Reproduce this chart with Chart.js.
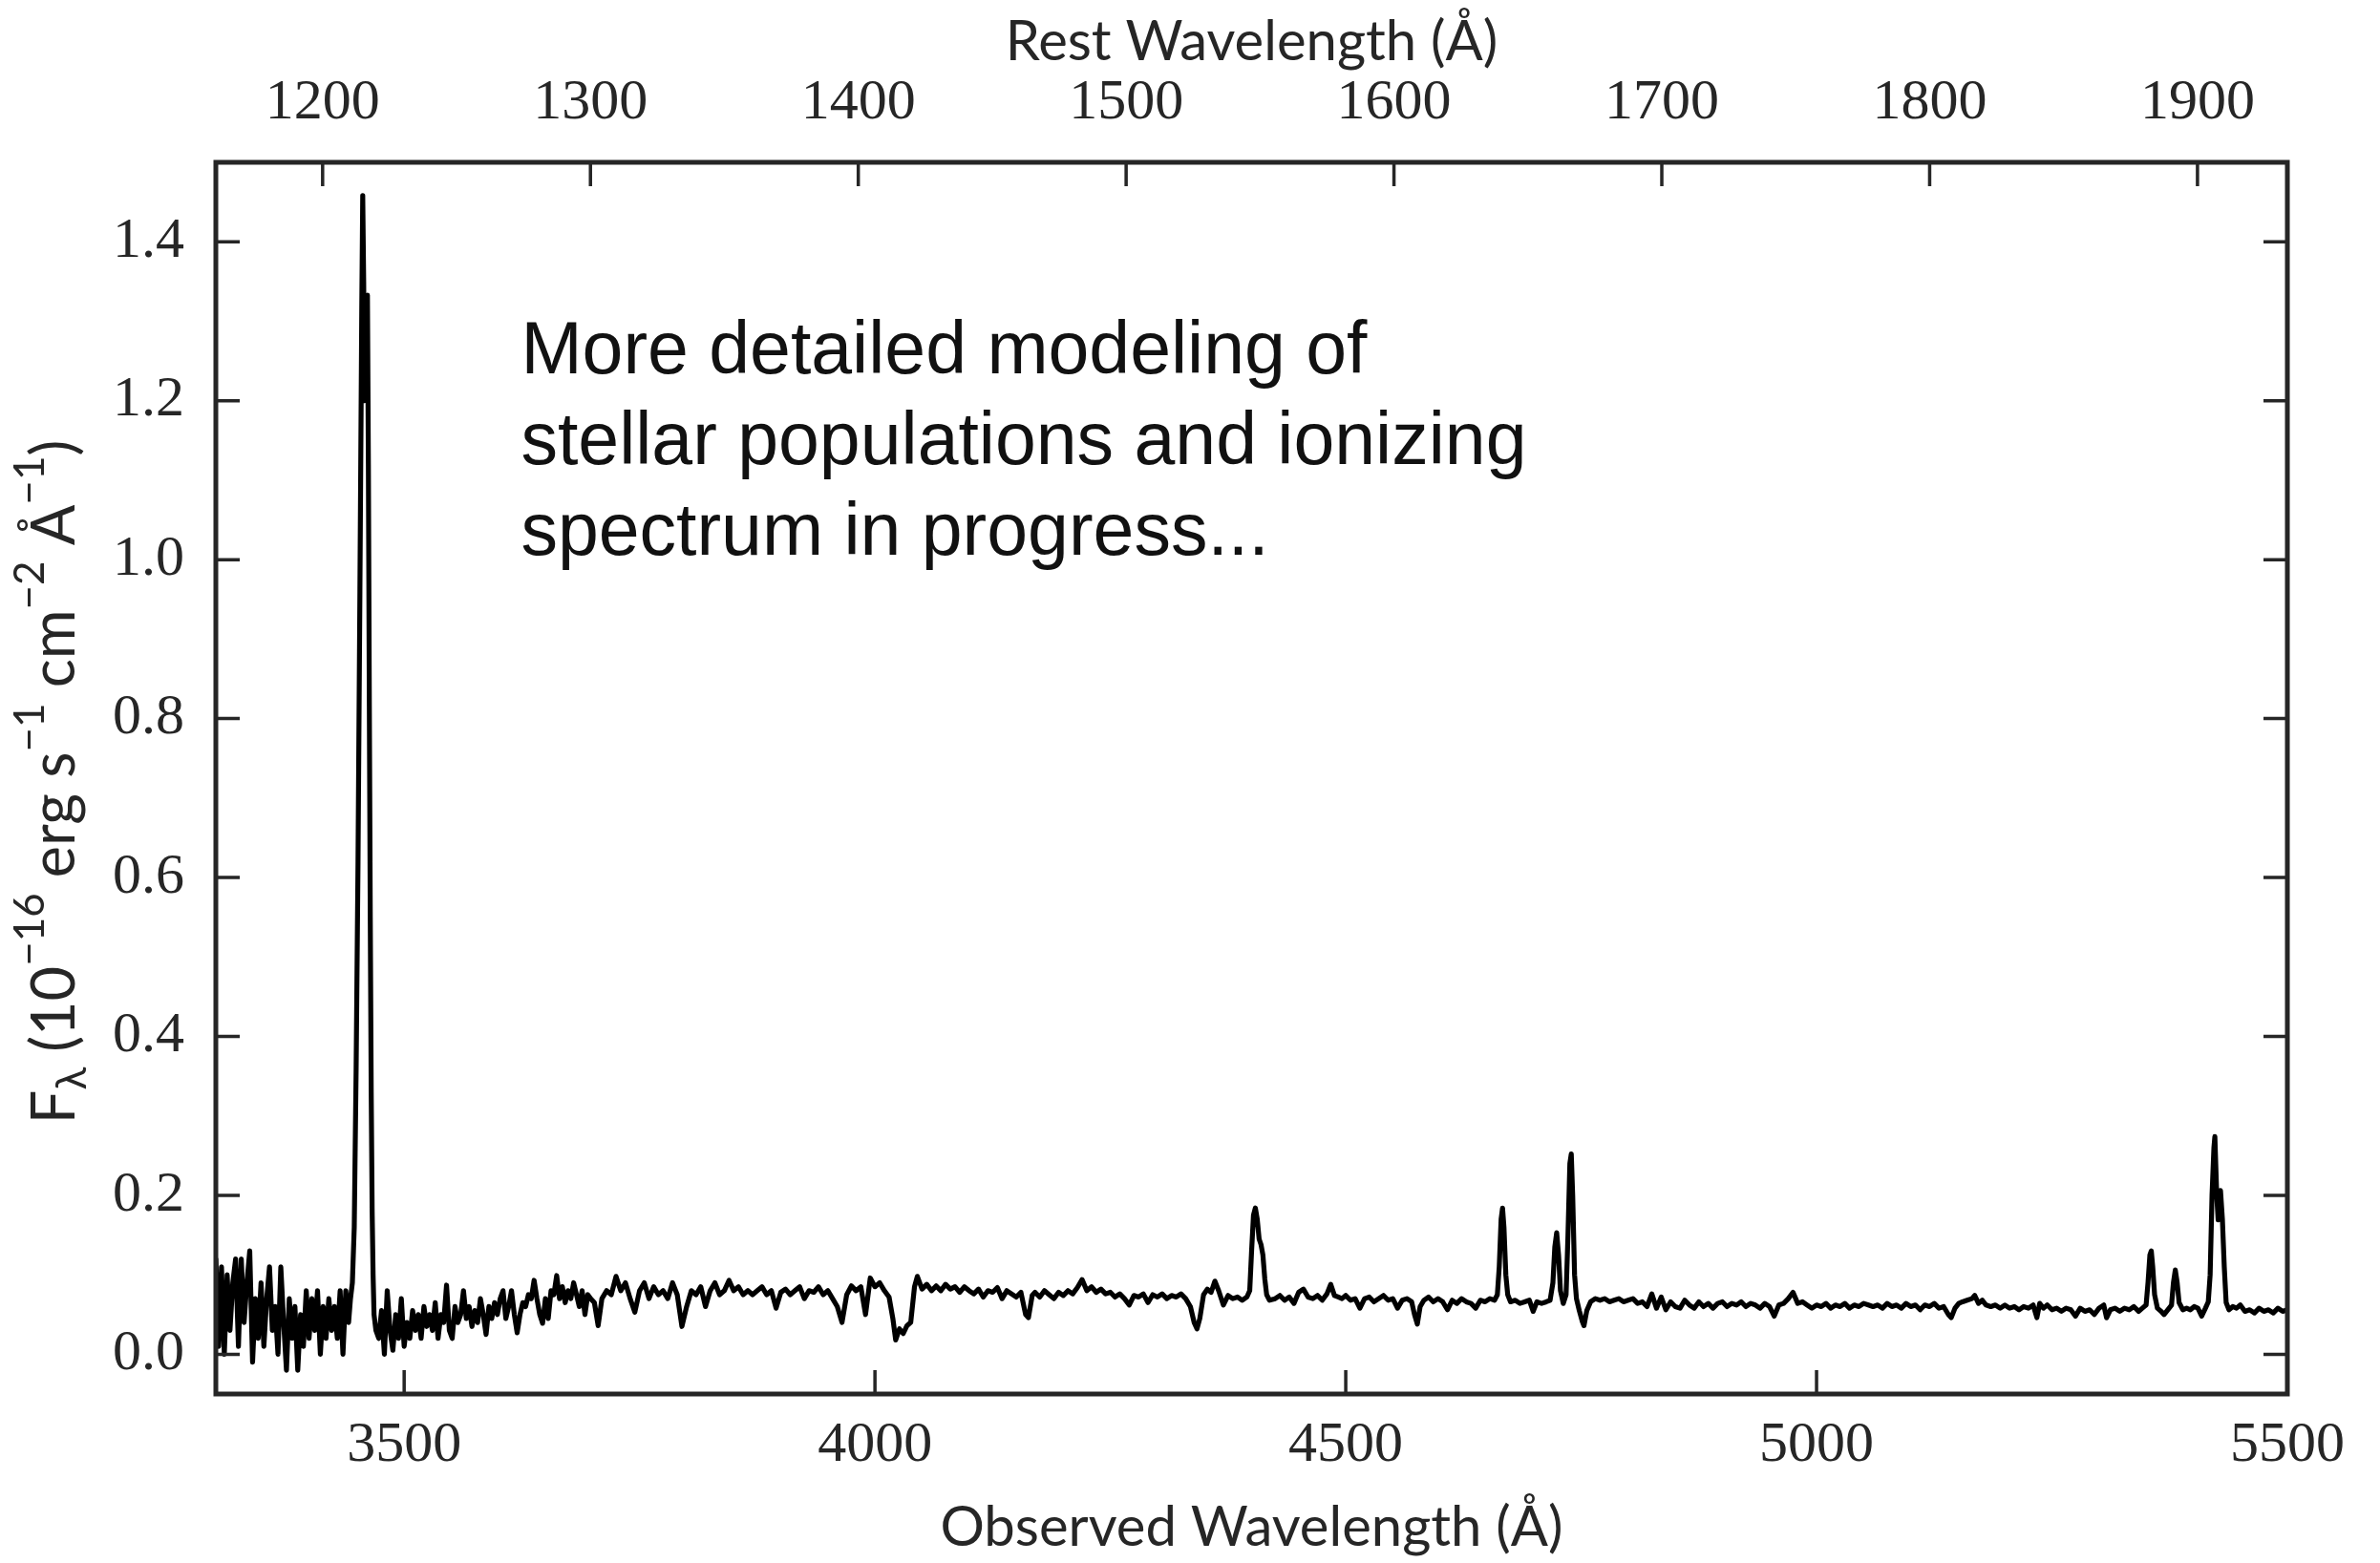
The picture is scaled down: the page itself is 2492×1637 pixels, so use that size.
<!DOCTYPE html>
<html>
<head>
<meta charset="utf-8">
<title>Spectrum</title>
<script src="https://cdn.jsdelivr.net/npm/chart.js@4.4.1/dist/chart.umd.min.js"></script>
<style>
  html, body { margin: 0; padding: 0; background: #fff; }
  canvas { display: block; }
</style>
</head>
<body>
<canvas id="spec" width="2492" height="1637"></canvas>
<script>
// 1 + z for the rest-frame axis on top
const ONE_PLUS_Z = 2.8445;
const OBS_MIN = 3300, OBS_MAX = 5500;
const FLUX_MIN = -0.05, FLUX_MAX = 1.5;

const obsTicks = [3500, 4000, 4500, 5000, 5500];
const restTicks = [1200, 1300, 1400, 1500, 1600, 1700, 1800, 1900];
const fluxTicks = [0.0, 0.2, 0.4, 0.6, 0.8, 1.0, 1.2, 1.4];

const noteLines = ['More detailed modeling of', 'stellar populations and ionizing', 'spectrum in progress...'];

// [observed wavelength (Å), F_lambda (1e-16 erg/s/cm2/Å)]
const blueNoise = [
  [3300,0.12],[3303,0.01],[3306,0.11],[3309,0.00],[3312,0.10],[3315,0.03],[3318,0.09],[3321,0.12],
  [3324,0.01],[3327,0.12],[3330,0.04],[3333,0.09],[3336,0.13],[3339,-0.01],[3342,0.07],[3345,0.02],
  [3348,0.09],[3351,0.01],[3354,0.07],[3357,0.11],[3360,0.03],[3363,0.06],[3366,0.00],[3369,0.11],
  [3372,0.04],[3375,-0.02],[3378,0.07],[3381,0.02],[3384,0.06],[3387,-0.02],[3390,0.05],[3393,0.01],
  [3396,0.08],[3399,0.02],[3402,0.07],[3405,0.03],[3408,0.08],[3411,0.00],[3414,0.06],[3417,0.02],
  [3420,0.07],[3423,0.03],[3426,0.06],[3429,0.02],[3432,0.08],[3435,0.00],[3438,0.08],[3441,0.04]
];
const lyaLine = [
  [3443,0.07],[3445,0.09],[3447,0.16],[3449,0.36],[3451,0.62],[3453,0.96],[3455,1.32],[3456,1.458],
  [3457,1.35],[3458,1.20],[3459,1.24],[3460,1.30],[3461,1.333],[3462,1.12],[3463,0.82],[3464,0.55],
  [3465,0.33],[3466,0.18],[3467,0.10],[3468,0.05]
];
const continuumA = [
  [3470,0.03],[3473,0.02],[3476,0.055],[3479,0.00],[3482,0.08],[3485,0.03],[3488,0.005],[3491,0.05],
  [3494,0.02],[3497,0.07],[3500,0.01],[3503,0.04],[3506,0.02],[3509,0.055],[3512,0.03],[3515,0.05],
  [3518,0.02],[3521,0.06],[3524,0.035],[3527,0.05],[3530,0.03],[3533,0.065],[3536,0.02],[3539,0.05],
  [3542,0.04],[3545,0.087],[3548,0.03],[3551,0.02],[3554,0.06],[3557,0.04],[3560,0.05],[3563,0.08],
  [3566,0.045],[3569,0.06],[3572,0.035],[3575,0.055],[3578,0.04],[3581,0.07],[3584,0.05],[3587,0.025],
  [3590,0.06],[3593,0.045],[3596,0.065],[3599,0.05],[3602,0.07],[3605,0.08],[3608,0.045],[3611,0.06],
  [3614,0.08],[3617,0.05],[3620,0.027],[3623,0.05],[3626,0.065],[3629,0.06],[3632,0.075],[3635,0.07],
  [3638,0.093],[3641,0.07],[3644,0.05],[3647,0.039],[3650,0.07],[3653,0.045],[3656,0.08],[3659,0.075],
  [3662,0.099],[3665,0.07],[3668,0.085],[3671,0.065],[3674,0.08],[3677,0.07],[3680,0.09],[3683,0.075],
  [3686,0.06],[3689,0.08],[3692,0.05],[3695,0.075],[3698,0.07],[3702,0.065],[3706,0.036],[3710,0.07],
  [3715,0.08],[3720,0.075],[3725,0.098],[3730,0.08],[3735,0.09],[3740,0.07],[3745,0.053],[3750,0.08],
  [3755,0.09],[3760,0.07],[3765,0.085],[3770,0.075],[3775,0.08],[3780,0.07],[3785,0.09],[3790,0.075],
  [3795,0.035],[3800,0.06],[3805,0.08],[3810,0.075],[3815,0.085],[3820,0.06],[3825,0.08],[3830,0.09],
  [3835,0.075],[3840,0.08],[3845,0.093],[3850,0.08],[3855,0.085],[3860,0.075],[3865,0.08],[3870,0.075],
  [3875,0.08],[3880,0.085],[3885,0.075],[3890,0.08],[3895,0.058],[3900,0.078],[3905,0.082],[3910,0.075],
  [3915,0.08],[3920,0.085],[3925,0.07],[3930,0.08],[3935,0.078],[3940,0.085],[3945,0.075],[3950,0.08],
  [3955,0.07],[3960,0.06],[3965,0.04],[3970,0.075],[3975,0.086],[3980,0.08],[3985,0.085],[3990,0.05],
  [3995,0.096],[4000,0.085],[4005,0.09],[4010,0.08],[4015,0.072],[4019,0.045],[4022,0.018],[4026,0.032],
  [4030,0.026],[4034,0.036],[4038,0.04],[4042,0.085],[4045,0.098],[4050,0.082],[4055,0.088],[4060,0.08],
  [4065,0.086],[4070,0.08],[4075,0.088],[4080,0.082],[4085,0.085],[4090,0.078],[4095,0.085],[4100,0.08],
  [4105,0.076],[4110,0.082],[4115,0.072],[4120,0.08],[4125,0.078],[4130,0.084],[4135,0.07],[4140,0.08],
  [4145,0.076],[4150,0.072],[4155,0.078],[4160,0.05],[4163,0.046],[4167,0.074],[4170,0.078],[4175,0.072],
  [4180,0.08],[4185,0.075],[4190,0.07],[4195,0.078],[4200,0.074],[4205,0.08],[4210,0.076],[4215,0.084],
  [4220,0.094],[4225,0.08],[4230,0.085],[4235,0.078],[4240,0.082],[4245,0.076],[4250,0.078],[4255,0.072],
  [4260,0.076],[4265,0.07],[4270,0.062],[4275,0.074],[4280,0.072],[4285,0.076],[4290,0.065],[4295,0.075],
  [4300,0.072],[4305,0.076],[4310,0.07],[4315,0.074],[4320,0.072],[4325,0.076],[4330,0.07],[4335,0.06],
  [4339,0.04],[4342,0.032],[4345,0.045],[4349,0.075],[4353,0.082],[4357,0.078],[4361,0.092],[4365,0.08],
  [4370,0.062],[4375,0.074],[4380,0.07],[4385,0.072],[4390,0.068],[4395,0.072]
];
const civLine = [
  [4398,0.08],[4400,0.13],[4402,0.175],[4404,0.184],[4406,0.17],[4408,0.145],[4410,0.138],[4412,0.125],
  [4414,0.095],[4416,0.075],[4419,0.068]
];
const continuumB = [
  [4425,0.07],[4430,0.074],[4435,0.068],[4440,0.072],[4445,0.064],[4450,0.078],[4455,0.082],[4460,0.072],
  [4465,0.07],[4470,0.074],[4475,0.068],[4480,0.076],[4484,0.088],[4488,0.074],[4492,0.072],[4496,0.07],
  [4500,0.074],[4505,0.068],[4510,0.07],[4515,0.058],[4520,0.07],[4525,0.072],[4530,0.066],[4535,0.07],
  [4540,0.074],[4545,0.068],[4550,0.07],[4555,0.058],[4560,0.068],[4565,0.07],[4570,0.066],[4573,0.05],
  [4576,0.038],[4579,0.06],[4583,0.068],[4588,0.072],[4593,0.066],[4598,0.07],[4603,0.066],[4608,0.056],
  [4613,0.068],[4618,0.064],[4623,0.07],[4628,0.066],[4633,0.064],[4638,0.058],[4643,0.068],[4648,0.066],
  [4653,0.07],[4658,0.068]
];
const heiiOiiiLines = [
  [4661,0.075],[4663,0.11],[4665,0.17],[4666.5,0.184],[4668,0.16],[4670,0.10],[4672,0.075],[4675,0.066],
  [4680,0.068],[4685,0.064],[4690,0.066],[4695,0.068],[4699,0.054],[4703,0.066],[4708,0.064],[4713,0.066],
  [4717,0.068],[4720,0.09],[4722,0.135],[4724,0.153],[4726,0.125],[4728,0.08],[4731,0.064],[4734,0.075],
  [4736,0.15],[4738,0.24],[4739.5,0.252],[4741,0.20],[4743,0.10],[4745,0.07],[4748,0.055],[4751,0.042],
  [4753,0.036],[4756,0.055]
];
const continuumC = [
  [4760,0.066],[4765,0.07],[4770,0.068],[4775,0.07],[4780,0.066],[4785,0.068],[4790,0.07],[4795,0.066],
  [4800,0.068],[4805,0.07],[4810,0.064],[4815,0.066],[4820,0.06],[4825,0.076],[4830,0.058],[4835,0.072],
  [4840,0.056],[4845,0.066],[4850,0.06],[4855,0.058],[4860,0.068],[4865,0.062],[4870,0.058],[4875,0.066],
  [4880,0.06],[4885,0.064],[4890,0.058],[4895,0.064],[4900,0.066],[4905,0.06],[4910,0.064],[4915,0.062],
  [4920,0.066],[4925,0.06],[4930,0.064],[4935,0.062],[4940,0.058],[4945,0.064],[4950,0.06],[4955,0.048],
  [4960,0.062],[4965,0.064],[4970,0.07],[4975,0.078],[4980,0.064],[4985,0.066],[4990,0.062],[4995,0.058],
  [5000,0.062],[5005,0.06],[5010,0.064],[5015,0.058],[5020,0.062],[5025,0.06],[5030,0.064],[5035,0.058],
  [5040,0.062],[5045,0.06],[5050,0.064],[5055,0.062],[5060,0.06],[5065,0.062],[5070,0.058],[5075,0.064],
  [5080,0.06],[5085,0.062],[5090,0.058],[5095,0.064],[5100,0.06],[5105,0.062],[5110,0.056],[5115,0.062],
  [5120,0.06],[5125,0.064],[5130,0.058],[5135,0.06],[5140,0.05],[5143,0.046],[5147,0.058],[5151,0.064],
  [5155,0.066],[5160,0.068],[5165,0.07],[5168,0.074],[5172,0.064],[5176,0.068],[5180,0.062],[5185,0.06],
  [5190,0.062],[5195,0.058],[5200,0.062],[5205,0.058],[5210,0.06],[5215,0.056],[5220,0.06],[5225,0.058],
  [5230,0.062],[5234,0.046],[5237,0.064],[5241,0.058],[5245,0.062],[5250,0.056],[5255,0.058],[5260,0.054],
  [5265,0.058],[5270,0.056],[5275,0.048],[5280,0.058],[5285,0.054],[5290,0.056],[5295,0.05],[5300,0.058],
  [5305,0.062],[5308,0.046],[5312,0.056],[5317,0.058],[5322,0.054],[5327,0.058],[5332,0.056],[5337,0.06],
  [5342,0.054],[5346,0.058]
];
const siiiiCiiiLines = [
  [5350,0.062],[5352,0.09],[5354,0.125],[5355.5,0.13],[5357,0.11],[5359,0.075],[5362,0.058],[5366,0.054],
  [5369,0.05],[5373,0.056],[5377,0.062],[5379,0.09],[5381,0.106],[5383,0.09],[5385,0.065],[5389,0.056],
  [5393,0.058],[5397,0.056],[5401,0.06],[5405,0.058],[5409,0.048],[5413,0.058],[5416,0.066],[5418,0.10],
  [5420,0.20],[5422,0.26],[5423,0.274],[5425,0.20],[5426.5,0.169],[5428,0.19],[5429,0.206],[5431,0.17],
  [5433,0.11],[5435,0.065],[5438,0.056]
];
const redEnd = [
  [5442,0.06],[5446,0.058],[5450,0.062],[5455,0.054],[5460,0.056],[5465,0.052],[5470,0.058],[5475,0.054],
  [5480,0.056],[5485,0.052],[5490,0.058],[5495,0.054],[5500,0.056]
];

const spectrum = [].concat(blueNoise, lyaLine, continuumA, civLine, continuumB,
  heiiOiiiLines, continuumC, siiiiCiiiLines, redEnd);

const AXIS_COLOR = '#262626';
const TICK_FONT = { family: "'Liberation Serif', serif", size: 60 };
const TITLE_FONT = { family: "Lato, sans-serif", size: 58 };

// white page behind the canvas
const bgPlugin = {
  id: 'bg',
  beforeDraw(chart) {
    const ctx = chart.ctx;
    ctx.save();
    ctx.fillStyle = '#fff';
    ctx.fillRect(0, 0, chart.width, chart.height);
    ctx.restore();
  }
};

// inward ticks, frame, y label with super/subscripts and the note
const framePlugin = {
  id: 'frame',
  afterDraw(chart) {
    const ctx = chart.ctx;
    const { left, right, top, bottom } = chart.chartArea;
    const xs = chart.scales.x, xr = chart.scales.xRest, ys = chart.scales.y;
    const tl = 25;

    ctx.save();
    ctx.strokeStyle = AXIS_COLOR;
    ctx.lineWidth = 3.5;
    ctx.beginPath();
    obsTicks.forEach(v => {
      const px = xs.getPixelForValue(v);
      ctx.moveTo(px, bottom); ctx.lineTo(px, bottom - tl);
    });
    restTicks.forEach(v => {
      const px = xr.getPixelForValue(v);
      ctx.moveTo(px, top); ctx.lineTo(px, top + tl);
    });
    fluxTicks.forEach(v => {
      const py = ys.getPixelForValue(v);
      ctx.moveTo(left, py); ctx.lineTo(left + tl, py);
      ctx.moveTo(right, py); ctx.lineTo(right - tl, py);
    });
    ctx.stroke();

    ctx.lineWidth = 5;
    ctx.strokeRect(left, top, right - left, bottom - top);

    // y axis label
    const base = 63, small = 44;
    const parts = [
      { t: 'F', s: base, dy: 0 },
      { t: 'λ', s: small, dy: 0.28 },
      { t: ' (10', s: base, dy: 0 },
      { t: '−16', s: small, dy: -0.42 },
      { t: ' erg s', s: base, dy: 0 },
      { t: '−1', s: small, dy: -0.42 },
      { t: ' cm', s: base, dy: 0 },
      { t: '−2', s: small, dy: -0.42 },
      { t: ' Å', s: base, dy: 0 },
      { t: '−1', s: small, dy: -0.42 },
      { t: ')', s: base, dy: 0 }
    ];
    let total = 0;
    parts.forEach(p => {
      ctx.font = p.s + 'px Lato, sans-serif';
      p.w = ctx.measureText(p.t).width;
      total += p.w;
    });
    ctx.translate(58, (top + bottom) / 2 + 4);
    ctx.rotate(-Math.PI / 2);
    ctx.fillStyle = AXIS_COLOR;
    ctx.textBaseline = 'middle';
    ctx.textAlign = 'left';
    let cx = -total / 2;
    parts.forEach(p => {
      ctx.font = p.s + 'px Lato, sans-serif';
      ctx.fillText(p.t, cx, p.dy * base);
      cx += p.w;
    });
    ctx.restore();

    // note in the upper part of the panel
    ctx.save();
    ctx.fillStyle = '#111';
    ctx.font = "77px 'Liberation Sans', Arial, sans-serif";
    ctx.textBaseline = 'alphabetic';
    ctx.textAlign = 'left';
    const nx = xs.getPixelForValue(3624);
    const ny = ys.getPixelForValue(1.234);
    noteLines.forEach((line, i) => ctx.fillText(line, nx, ny + i * 95));
    ctx.restore();
  }
};

const ctx = document.getElementById('spec').getContext('2d');
const specChart = new Chart(ctx, {
  type: 'line',
  data: {
    datasets: [{
      data: spectrum.map(p => ({ x: p[0], y: p[1] })),
      borderColor: '#000',
      borderWidth: 5.2,
      borderJoinStyle: 'round',
      borderCapStyle: 'round',
      pointRadius: 0,
      tension: 0,
      fill: false
    }]
  },
  options: {
    animation: false,
    responsive: false,
    devicePixelRatio: 1,
    layout: { padding: { left: 0, right: 97, top: 0, bottom: 0 } },
    plugins: { legend: { display: false }, tooltip: { enabled: false } },
    scales: {
      x: {
        type: 'linear', position: 'bottom', min: OBS_MIN, max: OBS_MAX,
        afterBuildTicks: s => { s.ticks = obsTicks.map(v => ({ value: v })); },
        afterFit: s => { s.height = 177; },
        grid: { display: false, drawTicks: false },
        border: { display: false },
        ticks: { padding: 18, color: AXIS_COLOR, font: TICK_FONT, maxRotation: 0, autoSkip: false,
                 callback: v => String(v) },
        title: { display: true, text: 'Observed Wavelength (Å)', color: AXIS_COLOR, font: TITLE_FONT,
                 padding: { top: 0, bottom: 2 } }
      },
      xRest: {
        type: 'linear', position: 'top', min: OBS_MIN / ONE_PLUS_Z, max: OBS_MAX / ONE_PLUS_Z,
        afterBuildTicks: s => { s.ticks = restTicks.map(v => ({ value: v })); },
        afterFit: s => { s.height = 170; },
        grid: { display: false, drawTicks: false },
        border: { display: false },
        ticks: { padding: 26, color: AXIS_COLOR, font: TICK_FONT, maxRotation: 0, autoSkip: false,
                 callback: v => String(v) },
        title: { display: true, text: 'Rest Wavelength (Å)', color: AXIS_COLOR, font: TITLE_FONT,
                 padding: { top: 9, bottom: 0 } }
      },
      y: {
        type: 'linear', position: 'left', min: FLUX_MIN, max: FLUX_MAX,
        afterBuildTicks: s => { s.ticks = fluxTicks.map(v => ({ value: v })); },
        afterFit: s => { s.width = 226; },
        grid: { display: false, drawTicks: false },
        border: { display: false },
        ticks: { padding: 33, color: AXIS_COLOR, font: TICK_FONT, autoSkip: false,
                 callback: v => v.toFixed(1) }
      }
    }
  },
  plugins: [bgPlugin, framePlugin]
});
</script>
</body>
</html>
